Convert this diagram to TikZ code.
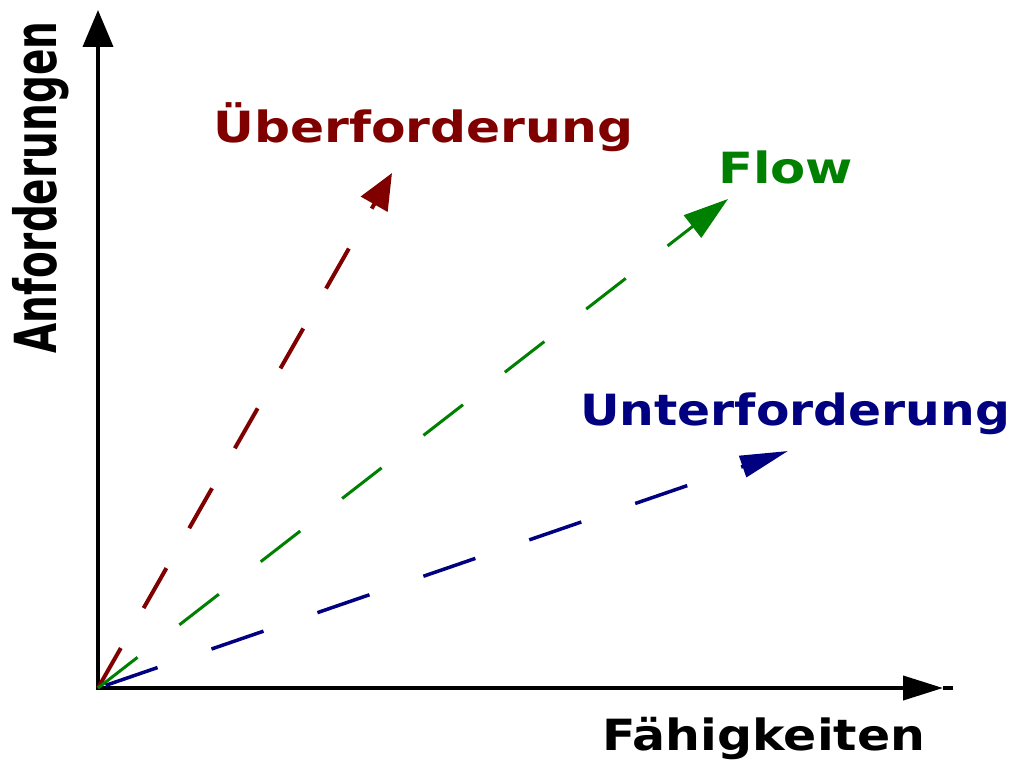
\documentclass[tikz,border=0pt]{standalone}
\usepackage{fontspec}
\usepackage{graphicx}
\usetikzlibrary{arrows.meta}
\newfontfamily\lblfont{DejaVu Sans}
\definecolor{dred}{RGB}{128,0,0}
\definecolor{dgreen}{RGB}{0,128,0}
\definecolor{dblue}{RGB}{0,0,128}
\newcommand{\lbltext}[2]{\resizebox{#1}{\height}{\lblfont\bfseries\fontsize{43}{50}\selectfont #2}}
\begin{document}
\begin{tikzpicture}[x=1pt,y=-1pt,
  axisline/.style={line width=4pt,draw=black},
  ray/.style={line width=3.5pt},
  txt/.style={inner sep=0pt,anchor=base west}]
\useasboundingbox (0,0) rectangle (1024,768);
\fill[white] (0,0) rectangle (1024,768);
\coordinate (O) at (98,688);
\coordinate (ybot) at (98,690);
\coordinate (ytip) at (98,10);
\coordinate (xstart) at (96,688);
\coordinate (xtip) at (943,688);
\coordinate (xend) at (953,688);
\coordinate (rtip) at (392,173);
\coordinate (gtip) at (728,199);
\coordinate (btip) at (788,451);
% axes
\draw[axisline,-{Triangle[length=37pt,width=30pt]}] (ybot) -- (ytip);
\draw[axisline,-{Triangle[length=40pt,width=24pt]}] (xstart) -- (xtip);
\draw[axisline] (xtip) -- (xend);
% rays
\draw[ray,dred,line width=4pt,dash pattern=on 46pt off 46pt,-{Triangle[length=36pt,width=30pt]}] (O) -- (rtip);
\draw[ray,dgreen,line width=3pt,dash pattern=on 50pt off 53pt,-{Triangle[length=45pt,width=28pt]}] (O) -- (gtip);
\draw[ray,dblue,dash pattern=on 55pt off 57pt,dash phase=104pt,-{Triangle[length=48pt,width=22pt]}] (O) -- (btip);
% labels
\node[txt,text=dred] (uber) at (213,142) {\lbltext{420pt}{Überforderung}};
\node[txt,text=dgreen] (flow) at (718,183) {\lbltext{135pt}{Flow}};
\node[txt,text=dblue] (unter) at (580,425) {\lbltext{430pt}{Unterforderung}};
\node[txt,text=black] (faeh) at (602,750) {\lbltext{323pt}{Fähigkeiten}};
\node[txt,text=black,rotate=90] (anf) at (56,354) {\resizebox{332pt}{\height}{\lblfont\bfseries\fontsize{58}{66}\selectfont Anforderungen}};
\end{tikzpicture}
\end{document}
